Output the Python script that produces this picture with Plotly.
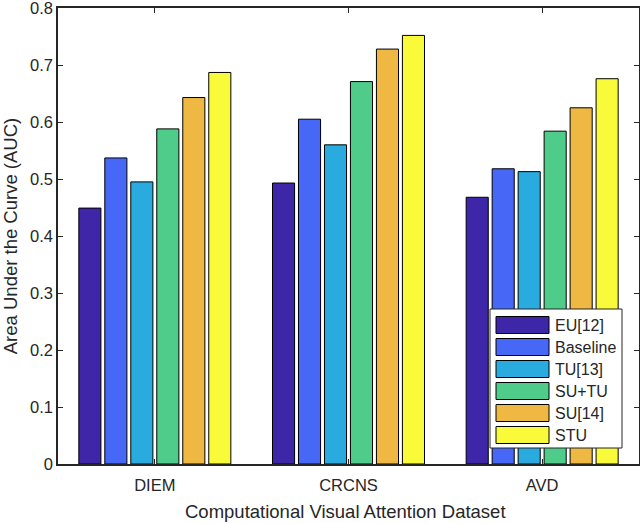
import plotly.graph_objects as go

categories = ["DIEM", "CRCNS", "AVD"]
series_names = ["EU[12]", "Baseline", "TU[13]", "SU+TU", "SU[14]", "STU"]
eu = [0.449, 0.493, 0.468]
baseline = [0.537, 0.605, 0.518]
tu = [0.495, 0.560, 0.513]
su_tu = [0.588, 0.671, 0.584]
su = [0.643, 0.728, 0.625]
stu = [0.687, 0.752, 0.676]
series_values = [eu, baseline, tu, su_tu, su, stu]
colors = ["#3E26A8", "#4767F6", "#2AABDF", "#4FCC8A", "#EEB843", "#F9FA3A"]
y_ticks = [0, 0.1, 0.2, 0.3, 0.4, 0.5, 0.6, 0.7, 0.8]
y_tick_labels = ["0", "0.1", "0.2", "0.3", "0.4", "0.5", "0.6", "0.7", "0.8"]

FONT = "Liberation Sans, Arial, Helvetica, sans-serif"
TXT = "#262626"
W, H = 640, 523
ML, MR, MT, MB = 58, 1, 8, 59
PW, PH = W - ML - MR, H - MT - MB


def px_x(p):
    return (p - ML) / PW


def px_y(p):
    return (H - MB - p) / PH


fig = go.Figure()
for name, vals, col in zip(series_names, series_values, colors):
    fig.add_trace(go.Bar(
        name=name, x=[1, 2, 3], y=vals,
        marker=dict(color=col, line=dict(color="black", width=1)),
        showlegend=False,
    ))

# custom legend (MATLAB-style large patches)
shapes = [dict(type="rect", xref="paper", yref="paper",
               x0=px_x(490), x1=px_x(622), y0=px_y(448), y1=px_y(309),
               line=dict(color=TXT, width=1), fillcolor="white", layer="above")]
annotations = []
for i, (name, col) in enumerate(zip(series_names, colors)):
    cy = 325 + 22 * i
    shapes.append(dict(type="rect", xref="paper", yref="paper",
                       x0=px_x(496), x1=px_x(549), y0=px_y(cy + 8.5), y1=px_y(cy - 8.5),
                       line=dict(color="black", width=1), fillcolor=col, layer="above"))
    annotations.append(dict(xref="paper", yref="paper", x=px_x(553), y=px_y(cy),
                            xanchor="left", yanchor="middle", text=name, showarrow=False,
                            font=dict(size=16, color=TXT, family=FONT)))

# x-axis title placed as annotation for exact position
annotations.append(dict(xref="paper", yref="paper", x=px_x(345), y=px_y(512),
                        xanchor="center", yanchor="middle", showarrow=False,
                        text="Computational Visual Attention Dataset",
                        font=dict(size=18.5, color=TXT, family=FONT)))

fig.update_layout(
    width=W, height=H, autosize=False,
    margin=dict(l=ML, r=MR, t=MT, b=MB, autoexpand=False),
    paper_bgcolor="white", plot_bgcolor="white",
    barmode="group", bargap=0.195, bargroupgap=0.15,
    font=dict(family=FONT, size=16, color=TXT),
    showlegend=False,
    shapes=shapes, annotations=annotations,
    xaxis=dict(
        range=[0.5, 3.5], tickvals=[1, 2, 3], ticktext=categories,
        ticks="inside", ticklen=5, tickcolor=TXT,
        showline=True, linecolor=TXT, linewidth=1.5, mirror="ticks",
        showgrid=False, zeroline=False, automargin=False,
        tickfont=dict(size=16.5), ticklabelstandoff=5,
    ),
    yaxis=dict(
        range=[0, 0.8001], tickvals=y_ticks, ticktext=y_tick_labels,
        ticks="inside", ticklen=5, tickcolor=TXT,
        showline=True, linecolor=TXT, linewidth=1.5, mirror="ticks",
        showgrid=False, zeroline=False, automargin=False,
        tickfont=dict(size=16.5), ticklabeloverflow="allow",
        title=dict(text="Area Under the Curve (AUC)", font=dict(size=18.5)),
    ),
)

fig.write_html(
    "out.html",
    config={"responsive": False, "displayModeBar": False},
    default_width="640px", default_height="523px",
    post_script="document.body.style.margin='0';document.body.style.padding='0';"
                "document.body.style.overflow='hidden';",
)
